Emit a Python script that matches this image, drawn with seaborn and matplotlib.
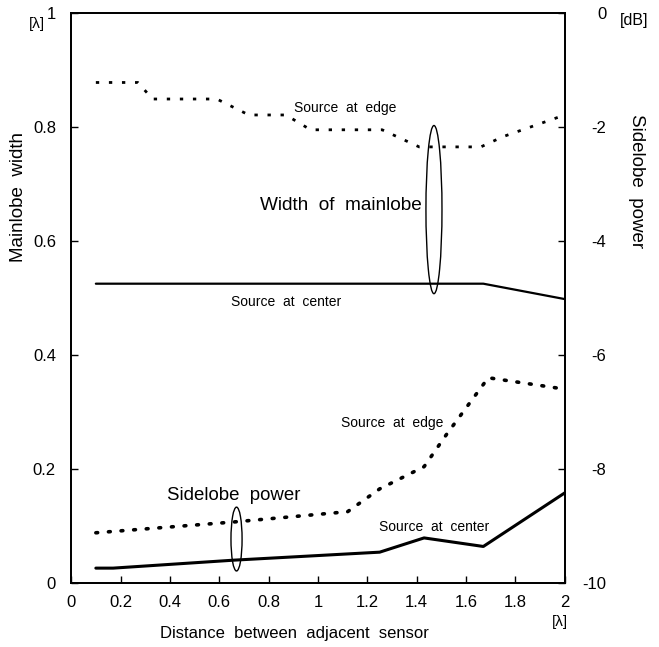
import pandas as pd
import seaborn as sns
import matplotlib.pyplot as plt
from matplotlib.patches import Ellipse

# mainlobe width [lambda], left axis
edge_main_x = [0.1, 0.27, 0.33, 0.59, 0.72, 0.87, 0.97, 1.26, 1.41, 1.66, 1.75, 2.0]
edge_main_y = [0.878, 0.878, 0.849, 0.849, 0.821, 0.821, 0.795, 0.795, 0.765, 0.765, 0.783, 0.821]
center_main_x = [0.1, 1.67, 2.0]
center_main_y = [0.525, 0.525, 0.498]

# sidelobe power [dB], right axis
edge_side_x = [0.1, 0.66, 1.12, 1.25, 1.43, 1.52, 1.69, 2.0]
edge_side_db = [-9.12, -8.93, -8.75, -8.35, -7.96, -7.4, -6.4, -6.6]
center_side_x = [0.1, 0.17, 0.66, 1.25, 1.43, 1.67, 2.0]
center_side_db = [-9.74, -9.74, -9.6, -9.46, -9.21, -9.36, -8.42]

xticks = [0, 0.2, 0.4, 0.6, 0.8, 1, 1.2, 1.4, 1.6, 1.8, 2]
xtick_labels = ['0', '0.2', '0.4', '0.6', '0.8', '1', '1.2', '1.4', '1.6', '1.8', '2']
yticks = [0, 0.2, 0.4, 0.6, 0.8, 1]
ytick_labels = ['0', '0.2', '0.4', '0.6', '0.8', '1']
db_ticks = [-10, -8, -6, -4, -2, 0]

sns.set_theme(style='white')
plt.rcParams['font.family'] = ['Liberation Sans', 'DejaVu Sans']
plt.rcParams['text.color'] = 'black'
plt.rcParams['axes.labelcolor'] = 'black'

fig = plt.figure(figsize=(6.59, 6.47), dpi=100)
ax = fig.add_axes([0.108, 0.099, 0.749, 0.881])
ax2 = ax.twinx()

sns.lineplot(x=edge_main_x, y=edge_main_y, ax=ax, color='black',
             linewidth=2, linestyle=(0, (1.2, 3.5)))
sns.lineplot(x=center_main_x, y=center_main_y, ax=ax, color='black', linewidth=1.6)
sns.lineplot(x=edge_side_x, y=edge_side_db, ax=ax2, color='black',
             linewidth=2.6, linestyle=(0, (0.5, 3.0)), dash_capstyle='round')
sns.lineplot(x=center_side_x, y=center_side_db, ax=ax2, color='black', linewidth=2.2)

ax.set_xlim(0, 2)
ax.set_ylim(0, 1)
ax2.set_ylim(-10, 0)

ax.set_xticks(xticks, xtick_labels)
ax.set_yticks(yticks, ytick_labels)
ax2.set_yticks(db_ticks, [str(v) for v in db_ticks])

for a in (ax, ax2):
    for s in a.spines.values():
        s.set_color('black')
        s.set_linewidth(1.3)
ax.tick_params(axis='both', direction='in', length=5, width=1, colors='black',
               labelsize=12, left=True, bottom=True)
ax.tick_params(axis='y', pad=11)
ax.tick_params(axis='x', pad=9)
ax2.tick_params(axis='y', direction='in', length=5, width=1, colors='black',
                labelsize=12, right=True, pad=30)
for lbl in ax2.get_yticklabels():
    lbl.set_horizontalalignment('right')

ax.set_xlabel('Distance  between  adjacent  sensor', fontsize=12, color='black')
ax.xaxis.set_label_coords(0.453, -0.075)
ax.set_ylabel('Mainlobe  width', fontsize=13.5, color='black')
ax.yaxis.set_label_coords(-0.089, 0.677)
ax2.set_ylabel('Sidelobe  power', fontsize=13.5, rotation=270, labelpad=0, color='black')
ax2.yaxis.set_label_coords(1.162, 0.705)

ax.text(-0.069, 0.981, '[λ]', transform=ax.transAxes, fontsize=11, ha='center', va='center')
ax.text(1.14, 0.986, '[dB]', transform=ax.transAxes, fontsize=11.5, ha='center', va='center')
ax.text(0.99, -0.068, '[λ]', transform=ax.transAxes, fontsize=11, ha='center', va='center')

ax.text(1.11, 0.833, 'Source  at  edge', fontsize=10, ha='center', va='center')
ax.text(0.765, 0.663, 'Width  of  mainlobe', fontsize=13.7, ha='left', va='center')
ax.text(0.87, 0.493, 'Source  at  center', fontsize=10, ha='center', va='center')
ax.text(0.66, 0.154, 'Sidelobe  power', fontsize=13.4, ha='center', va='center')
ax.text(1.30, 0.281, 'Source  at  edge', fontsize=10, ha='center', va='center')
ax.text(1.47, 0.098, 'Source  at  center', fontsize=10, ha='center', va='center')

ax.add_patch(Ellipse((1.47, 0.655), 0.065, 0.295, fill=False, edgecolor='black', linewidth=1))
ax.add_patch(Ellipse((0.67, 0.077), 0.045, 0.112, fill=False, edgecolor='black', linewidth=1))

fig.savefig('out.png', dpi=100)
